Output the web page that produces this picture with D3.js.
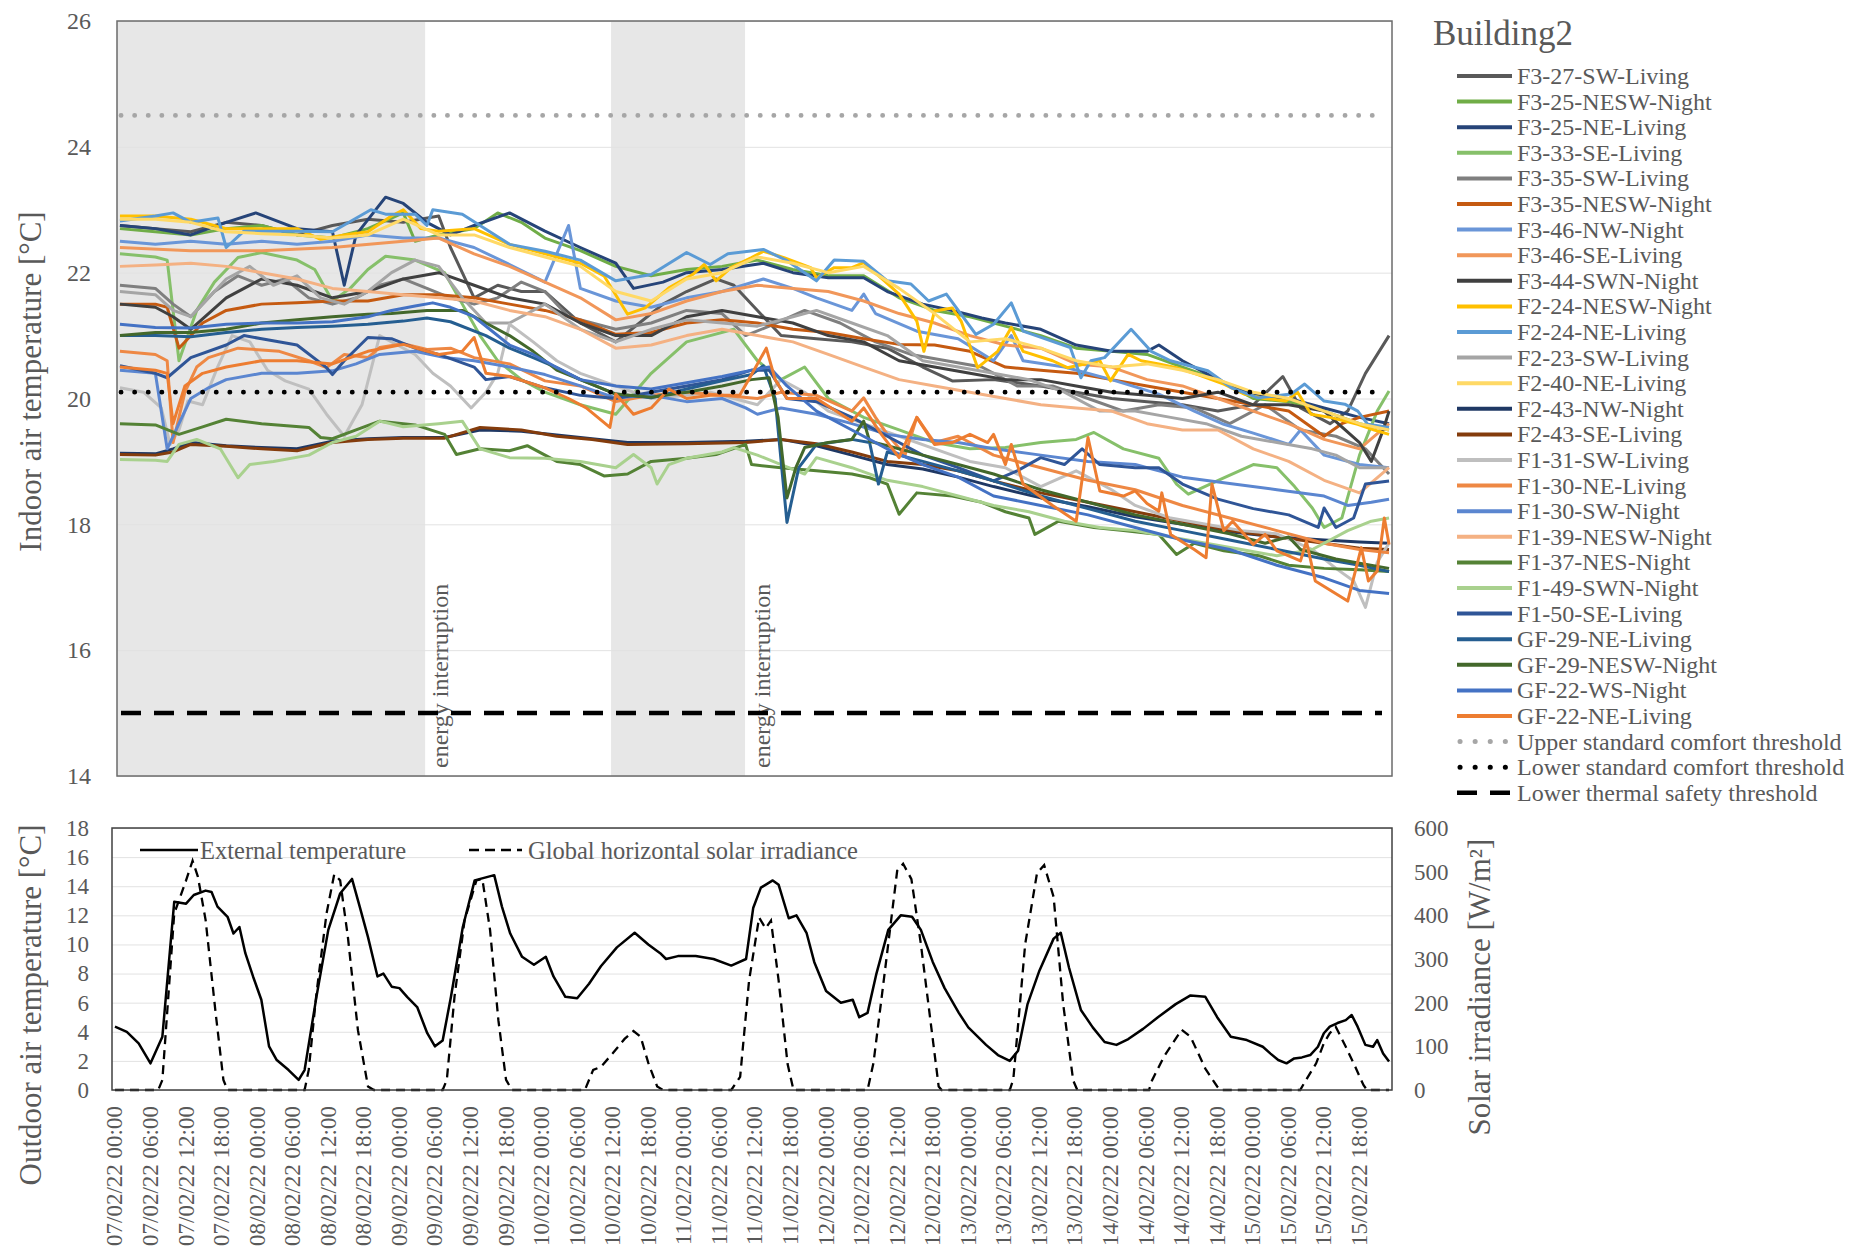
<!DOCTYPE html>
<html><head><meta charset="utf-8">
<script src="https://cdn.jsdelivr.net/npm/d3@7"></script>
<style>
body{margin:0;background:#fff;}
svg text{font-family:"Liberation Serif","Times New Roman",serif;fill:#595959;}
</style></head><body>
<svg id="chart" width="1852" height="1251"></svg>
<script>
// ---------------- DATA ----------------
// hours counted from 07/02/22 00:00
const xTickLabels = [
"07/02/22 00:00","07/02/22 06:00","07/02/22 12:00","07/02/22 18:00",
"08/02/22 00:00","08/02/22 06:00","08/02/22 12:00","08/02/22 18:00",
"09/02/22 00:00","09/02/22 06:00","09/02/22 12:00","09/02/22 18:00",
"10/02/22 00:00","10/02/22 06:00","10/02/22 12:00","10/02/22 18:00",
"11/02/22 00:00","11/02/22 06:00","11/02/22 12:00","11/02/22 18:00",
"12/02/22 00:00","12/02/22 06:00","12/02/22 12:00","12/02/22 18:00",
"13/02/22 00:00","13/02/22 06:00","13/02/22 12:00","13/02/22 18:00",
"14/02/22 00:00","14/02/22 06:00","14/02/22 12:00","14/02/22 18:00",
"15/02/22 00:00","15/02/22 06:00","15/02/22 12:00","15/02/22 18:00"];
const xTickHours = [0,6,12,18,24,30,36,42,48,54,60,66,72,78,84,90,96,102,108,114,120,126,132,138,144,150,156,162,168,174,180,186,192,198,204,210];
const indoorTicks = [14,16,18,20,22,24,26];
const outdoorTicks = [0,2,4,6,8,10,12,14,16,18];
const solarTicks = [0,100,200,300,400,500,600];
const upperComfort = 24.5, lowerComfort = 20.1, lowerSafety = 15;
const interruptionPeriods = [[-0.5,51.7],[83.2,105.9]];
const interruptionLabelHours = [54.3,108.8];

const seriesNames = ["F3-27-SW-Living","F3-25-NESW-Night","F3-25-NE-Living","F3-33-SE-Living","F3-35-SW-Living","F3-35-NESW-Night","F3-46-NW-Night","F3-46-SE-Living","F3-44-SWN-Night","F2-24-NESW-Night","F2-24-NE-Living","F2-23-SW-Living","F2-40-NE-Living","F2-43-NW-Night","F2-43-SE-Living","F1-31-SW-Living","F1-30-NE-Living","F1-30-SW-Night","F1-39-NESW-Night","F1-37-NES-Night","F1-49-SWN-Night","F1-50-SE-Living","GF-29-NE-Living","GF-29-NESW-Night","GF-22-WS-Night","GF-22-NE-Living"];

const F3_27_SW = [[0,22.75],[6,22.7],[12,22.65],[18,22.8],[24,22.75],[30,22.6],[36,22.75],[42,22.85],[48,22.8],[54,22.9],[56,22.4],[60,21.6],[64,21.8],[68,21.7],[72,21.7],[78,21.2],[84,20.9],[88,21.2],[92,21.5],[96,21.7],[101,21.9],[104,21.8],[108,21.4],[112,21.0],[118,20.95],[124,20.9],[130,20.8],[136,20.5],[141,20.28],[148,20.3],[156,20.2],[162,20.1],[168,20.0],[174,19.95],[180,19.9],[186,19.8],[192,19.9],[197,20.35],[200,19.85],[205,19.6],[208,19.8],[211,20.4],[215,21.0]];
const F3_25_NESW = [[0,22.7],[6,22.65],[12,22.6],[18,22.7],[24,22.75],[30,22.6],[36,22.55],[42,22.7],[48,22.95],[50,22.5],[54,22.6],[60,22.7],[64,22.95],[68,22.8],[72,22.55],[78,22.35],[84,22.1],[90,21.95],[96,22.05],[102,22.1],[108,22.2],[114,22.05],[120,21.95],[126,21.95],[132,21.6],[138,21.4],[144,21.3],[150,21.15],[156,21.0],[162,20.8],[168,20.75],[174,20.7],[180,20.5],[186,20.3],[192,20.0],[198,19.95],[204,19.8],[210,19.6],[215,19.5]];
const F3_25_NE = [[0,22.75],[6,22.7],[12,22.6],[18,22.8],[23,22.95],[30,22.7],[36,22.65],[38,21.8],[40,22.6],[45,23.2],[48,23.1],[52,22.8],[56,22.6],[60,22.75],[66,22.95],[72,22.66],[78,22.4],[84,22.15],[87,21.75],[92,21.85],[96,22.0],[102,22.05],[109,22.15],[114,22.0],[120,21.92],[126,21.92],[130,21.7],[136,21.5],[141,21.4],[146,21.28],[150,21.2],[156,21.1],[162,20.85],[168,20.75],[174,20.75],[176,20.85],[180,20.6],[186,20.3],[192,20.05],[198,20.0],[204,19.85],[210,19.7],[215,19.6]];
const F3_33_SE = [[0,22.3],[6,22.25],[8,22.2],[10,20.6],[13,21.4],[16,21.85],[20,22.24],[24,22.32],[30,22.2],[33,22.05],[36,21.55],[39,21.75],[42,22.05],[45,22.26],[50,22.2],[55,22.0],[58,21.5],[61,21.0],[64,20.6],[68,20.3],[72,20.1],[78,19.9],[84,19.75],[90,20.4],[96,20.9],[100,21.0],[104,21.1],[108,20.6],[112,20.3],[116,20.5],[120,20.0],[126,19.7],[132,19.5],[138,19.3],[144,19.2],[150,19.22],[156,19.3],[162,19.35],[165,19.46],[170,19.2],[176,19.05],[179,18.64],[181,18.48],[187,18.74],[192,18.95],[196,18.9],[199,18.6],[202,18.26],[204,17.95],[207,18.1],[210,19.1],[213,19.8],[215,20.12]];
const F3_35_SW = [[0,21.8],[6,21.75],[9,21.5],[12,21.3],[16,21.7],[20,21.95],[24,21.8],[28,21.9],[32,21.6],[36,21.5],[40,21.6],[44,21.8],[48,21.9],[52,21.75],[56,21.6],[60,21.5],[64,21.6],[68,21.85],[72,21.7],[76,21.3],[80,21.2],[84,21.1],[90,21.2],[96,21.4],[102,21.35],[106,21.0],[110,21.15],[116,21.4],[122,21.2],[128,20.9],[134,20.7],[140,20.6],[146,20.5],[152,20.2],[158,20.2],[164,20.0],[170,19.8],[176,19.9],[182,19.85],[188,19.6],[194,19.9],[200,19.5],[206,19.4],[211,19.2],[215,18.8]];
const F3_35_NESW = [[0,21.5],[6,21.5],[8,21.45],[10,20.8],[14,21.2],[18,21.4],[24,21.5],[30,21.52],[36,21.55],[42,21.55],[48,21.65],[54,21.65],[60,21.6],[66,21.5],[72,21.4],[78,21.25],[84,21.02],[90,21.05],[96,21.2],[102,21.25],[108,21.2],[114,21.1],[120,21.05],[126,20.95],[132,20.86],[138,20.85],[144,20.75],[150,20.5],[156,20.45],[162,20.4],[168,20.3],[174,20.2],[180,20.1],[186,20.0],[192,19.9],[198,19.8],[204,19.4],[207,19.6],[210,19.7],[215,19.8]];
const F3_46_NW = [[0,22.5],[6,22.45],[12,22.5],[18,22.45],[24,22.5],[30,22.45],[36,22.5],[42,22.6],[48,22.55],[54,22.55],[60,22.4],[66,22.13],[72,21.85],[76,22.75],[78,21.75],[84,21.55],[90,21.45],[96,21.6],[102,21.7],[109,21.9],[114,21.75],[118,21.6],[124,21.4],[126,21.66],[128,21.35],[135,21.07],[142,20.95],[148,20.6],[151,21.0],[153,20.6],[160,20.5],[168,20.3],[176,20.07],[182,19.8],[187,19.59],[192,19.45],[198,19.27],[200,19.5],[204,19.1],[210,18.95],[215,18.9]];
const F3_46_SE = [[0,22.4],[12,22.35],[24,22.35],[36,22.4],[48,22.5],[54,22.55],[60,22.3],[66,22.1],[72,21.85],[78,21.6],[84,21.25],[90,21.35],[96,21.55],[102,21.7],[108,21.8],[114,21.75],[120,21.7],[126,21.55],[132,21.35],[138,21.2],[144,21.0],[150,20.85],[156,20.8],[162,20.55],[168,20.5],[174,20.3],[180,20.2],[186,20.0],[192,19.8],[198,19.6],[204,19.35],[210,19.2],[215,19.6]];
const F3_44_SWN = [[0,21.5],[6,21.45],[9,21.3],[12,21.1],[18,21.6],[24,21.9],[30,21.8],[36,21.6],[42,21.7],[48,21.9],[54,22.0],[60,21.8],[66,21.6],[72,21.5],[78,21.2],[84,21.0],[90,21.0],[96,21.3],[102,21.4],[108,21.3],[114,21.2],[120,21.0],[126,20.9],[132,20.6],[138,20.5],[144,20.4],[150,20.3],[156,20.3],[162,20.2],[168,20.1],[174,20.05],[180,20.0],[186,20.1],[192,19.9],[198,19.9],[204,19.8],[210,19.3],[212,19.0],[214,19.5],[215,19.8]];
const F2_24_NESW = [[0,22.9],[6,22.9],[12,22.85],[18,22.7],[24,22.7],[30,22.7],[34,22.53],[38,22.6],[42,22.65],[46,22.9],[48,23.0],[51,22.7],[54,22.66],[60,22.7],[66,22.45],[72,22.3],[78,22.15],[82,21.95],[86,21.34],[89,21.44],[93,21.76],[97,21.97],[99,22.13],[101,21.87],[103.5,22.08],[107,22.24],[109,22.34],[112.5,22.24],[117,22.08],[118,21.92],[121,22.08],[124,22.08],[126,22.16],[129.5,21.87],[132,21.66],[135,21.23],[136.2,20.75],[138,21.39],[141,21.44],[142.5,21.23],[145.3,20.49],[148.7,20.75],[151,21.13],[153,20.75],[158,20.6],[160.5,20.49],[166,20.6],[167.8,20.28],[170.8,20.7],[173,20.6],[176,20.55],[179,20.49],[182.6,20.38],[187,20.23],[190.5,20.07],[194,20.0],[197.5,19.96],[199.5,20.1],[201.8,19.75],[205,19.7],[209.7,19.59],[212.5,19.5],[215,19.43]];
const F2_24_NE = [[0,22.82],[6,22.9],[9,22.95],[12,22.8],[16.6,22.87],[18,22.4],[21,22.66],[30,22.66],[36,22.65],[42.5,23.0],[45,22.93],[50,22.93],[52,22.75],[53,23.0],[58,22.93],[61,22.75],[66,22.45],[72,22.34],[78,22.2],[84,21.87],[90,21.97],[96,22.32],[100,22.13],[103,22.3],[109,22.37],[113,22.19],[118,21.87],[121,22.2],[126,22.18],[130,21.87],[134,21.82],[137,21.55],[140,21.66],[145,21.02],[148,21.18],[151,21.52],[153,21.07],[161,20.81],[162.8,20.33],[164.5,20.6],[166.8,20.65],[171.3,21.1],[174.7,20.75],[178,20.6],[184.3,20.44],[188.3,20.17],[192.8,20.01],[198.4,20.07],[200.7,20.23],[204,19.96],[207.5,19.91],[209.7,19.8],[211.4,19.59],[215,19.54]];
const F2_23_SW = [[0,21.7],[6,21.65],[9,21.4],[12,21.3],[18,21.9],[22,22.1],[26,21.8],[30,21.95],[34,21.6],[38,21.5],[42,21.7],[46,22.0],[50,22.2],[54,22.1],[58,21.6],[62,21.2],[66,21.2],[72,21.5],[78,21.1],[84,20.9],[90,21.1],[96,21.25],[102,21.2],[108,21.15],[114,21.3],[118,21.4],[124,21.2],[130,21.0],[136,20.6],[142,20.5],[148,20.4],[154,20.3],[160,20.1],[166,19.8],[172,19.8],[178,19.7],[184,19.6],[190,19.4],[196,19.3],[202,19.2],[206,19.1],[210,18.9],[215,18.9]];
const F2_40_NE = [[0,22.85],[6,22.85],[12,22.8],[18,22.65],[24,22.62],[30,22.6],[36,22.55],[42,22.6],[48,22.85],[54,22.6],[60,22.6],[66,22.4],[72,22.25],[78,22.1],[84,21.7],[90,21.55],[96,21.9],[102,22.0],[108,22.25],[114,22.15],[120,22.0],[126,22.1],[132,21.75],[138,21.35],[144,20.9],[150,20.95],[156,20.8],[162,20.6],[168,20.5],[174,20.55],[180,20.45],[186,20.3],[192,20.1],[198,20.0],[204,19.8],[210,19.6],[215,19.5]];
const F2_43_NW = [[0,19.13],[6,19.12],[9,19.2],[12,19.3],[18,19.25],[24,19.22],[30,19.2],[36,19.32],[42,19.36],[48,19.38],[55,19.38],[61,19.5],[68,19.48],[74,19.42],[80,19.36],[86,19.3],[96,19.3],[106,19.32],[112,19.35],[118,19.25],[124,19.1],[130,18.95],[136,18.88],[142,18.75],[148,18.6],[156,18.42],[164,18.28],[172,18.12],[180,18.0],[188,17.88],[196,17.8],[204,17.75],[210,17.72],[215,17.7]];
const F2_43_SE = [[0,19.11],[6,19.1],[9,19.15],[12,19.27],[18,19.24],[24,19.2],[30,19.17],[36,19.3],[42,19.35],[48,19.37],[55,19.37],[61,19.54],[68,19.5],[74,19.4],[80,19.35],[86,19.27],[96,19.28],[106,19.3],[112,19.35],[118,19.28],[124,19.15],[130,19.0],[136,18.95],[142,18.85],[148,18.69],[156,18.5],[164,18.35],[172,18.2],[180,18.05],[188,17.9],[196,17.8],[204,17.7],[210,17.62],[215,17.6]];
const F1_31_SW = [[0,20.17],[4,20.1],[7,19.85],[8.5,19.27],[10,19.5],[11.5,19.96],[14,19.9],[16.5,20.49],[19,21.0],[22,20.9],[25,20.45],[28,20.28],[32,20.15],[35,19.75],[38,19.4],[41,19.9],[44,21.0],[47,20.85],[50,20.7],[53,20.4],[56,20.2],[59.5,19.85],[62,20.1],[64,20.4],[66,21.18],[70,20.9],[74,20.6],[78,20.4],[84,20.2],[90,20.0],[96,20.05],[100,20.1],[104,20.0],[108,19.9],[112,20.3],[116,20.1],[120,19.8],[126,19.6],[132,19.4],[138,19.2],[144,19.0],[150,18.9],[156,18.6],[162,18.85],[168,18.55],[172,18.3],[178,18.1],[184,18.0],[190,17.9],[196,17.85],[202,17.6],[206,17.3],[209,17.1],[211,16.68],[213,17.4],[215,17.7]];
const F1_30_NE = [[0,20.75],[6,20.7],[8,20.6],[9,19.3],[11,20.1],[13,20.5],[15,20.65],[20,20.8],[27,20.75],[32,20.6],[35,20.49],[38,20.7],[42,20.65],[44,20.81],[48,20.87],[52,20.78],[56,20.8],[60,20.65],[66,20.55],[72,20.28],[78,20.2],[84,19.95],[90,20.05],[96,20.1],[102,20.05],[108,20.0],[112,20.1],[118,20.05],[124,19.8],[126,20.01],[128,19.7],[130,19.43],[133,19.1],[135,19.7],[138,19.3],[142,19.4],[148,19.1],[156,18.9],[164,18.7],[172,18.55],[180,18.3],[188,18.1],[196,17.9],[204,17.7],[210,17.6],[215,17.55]];
const F1_30_SW = [[0,20.45],[6,20.4],[8,19.2],[10,19.6],[12,20.0],[15,20.17],[18,20.3],[24,20.4],[30,20.4],[36,20.44],[40,20.55],[44,20.7],[50,20.75],[55,20.65],[60,20.6],[66,20.5],[72,20.38],[78,20.2],[84,20.01],[90,20.05],[96,19.95],[102,20.0],[106,19.85],[108,19.75],[112,19.85],[118,19.75],[124,19.6],[130,19.43],[136,19.35],[142,19.3],[148,19.2],[156,19.1],[164,19.0],[172,18.95],[180,18.75],[188,18.65],[196,18.55],[204,18.45],[208,18.3],[212,18.35],[215,18.4]];
const F1_39_NESW = [[0,22.1],[6,22.12],[12,22.15],[18,22.1],[24,22.0],[30,21.9],[36,21.75],[42,21.7],[48,21.65],[54,21.6],[60,21.55],[66,21.4],[72,21.3],[78,21.1],[84,20.8],[90,20.85],[96,21.0],[102,21.1],[108,21.0],[114,20.9],[120,20.7],[126,20.5],[132,20.3],[138,20.2],[144,20.1],[150,20.0],[156,19.9],[162,19.85],[168,19.8],[174,19.6],[180,19.5],[186,19.5],[192,19.2],[198,19.0],[204,18.7],[210,18.5],[215,18.9]];
const F1_37_NES = [[0,19.6],[6,19.58],[10,19.43],[14,19.55],[18,19.67],[24,19.6],[32,19.54],[34,19.38],[36,19.36],[40,19.5],[44,19.64],[50,19.58],[55,19.43],[57,19.11],[61,19.2],[66,19.17],[69,19.25],[74,19.0],[78,18.95],[82,18.77],[86,18.8],[90,19.0],[96,19.05],[101,19.11],[106,19.27],[107,18.95],[112,18.9],[118,18.85],[124,18.8],[127,18.74],[130,18.64],[132,18.16],[135,18.5],[141,18.45],[146,18.35],[150,18.2],[154,18.1],[155,17.84],[159,18.05],[165,17.95],[170,17.9],[176,17.84],[179,17.52],[182,17.7],[187,17.58],[193,17.5],[198,17.35],[204,17.3],[210,17.28],[215,17.25]];
const F1_49_SWN = [[0,19.03],[6,19.02],[8,19.0],[10,19.27],[13,19.35],[17,19.2],[20,18.74],[22,18.95],[26,19.0],[32,19.1],[36,19.3],[40,19.4],[44,19.64],[48,19.55],[54,19.6],[58,19.64],[61,19.2],[66,19.06],[72,19.05],[78,19.0],[84,18.9],[87,19.11],[90,18.9],[91,18.64],[93,18.95],[96,19.05],[102,19.15],[104,19.22],[108,19.1],[112,18.95],[116,18.8],[118,19.06],[124,18.9],[130,18.7],[136,18.6],[142,18.45],[148,18.3],[154,18.2],[160,18.05],[166,17.95],[172,17.9],[178,17.8],[184,17.7],[190,17.6],[196,17.5],[202,17.6],[208,17.9],[212,18.05],[215,18.1]];
const F1_50_SE = [[0,20.52],[6,20.4],[8,20.33],[12,20.65],[18,20.85],[21,21.0],[24,20.95],[30,20.85],[35,20.49],[36,20.38],[38,20.6],[42,20.97],[46,20.95],[50,20.8],[54,20.7],[60,20.5],[62,20.3],[66,20.35],[72,20.17],[78,20.05],[84,20.0],[90,20.1],[96,20.2],[102,20.3],[107,20.45],[110,20.45],[113,20.0],[118,19.95],[124,19.7],[130,19.4],[136,19.1],[142,18.9],[148,18.69],[152,18.85],[156,19.06],[160,18.95],[163,19.2],[166,18.95],[172,18.9],[176,18.9],[180,18.64],[186,18.4],[192,18.25],[198,18.15],[203,17.95],[204,18.26],[206,17.95],[209,18.1],[211,18.64],[215,18.69]];
const GF_29_NE = [[0,21.0],[6,21.0],[12,20.98],[18,21.05],[24,21.1],[30,21.13],[36,21.15],[42,21.18],[48,21.23],[52,21.28],[56,21.22],[62,21.0],[66,20.8],[70,20.65],[74,20.49],[78,20.3],[84,20.07],[90,20.01],[96,20.15],[102,20.28],[107,20.38],[109,20.52],[111,20.0],[113,18.03],[115,18.9],[118,19.27],[124,19.35],[127,19.3],[128.5,18.64],[130,19.15],[136,19.0],[142,18.85],[148,18.69],[156,18.45],[164,18.25],[172,18.05],[180,17.9],[188,17.75],[196,17.6],[204,17.45],[210,17.35],[215,17.25]];
const GF_29_NESW = [[0,21.0],[6,21.05],[12,21.05],[18,21.1],[24,21.2],[30,21.25],[36,21.3],[42,21.34],[46,21.35],[52,21.4],[58,21.4],[62,21.2],[66,21.0],[70,20.75],[74,20.45],[78,20.3],[84,20.07],[90,20.02],[96,20.1],[102,20.2],[107,20.3],[110,20.33],[111.5,19.7],[113,18.42],[114.5,18.9],[116,19.22],[120,19.3],[124,19.35],[126,19.64],[127,19.32],[130,19.25],[136,19.1],[142,18.95],[148,18.8],[156,18.55],[164,18.35],[172,18.15],[180,18.0],[188,17.85],[194,17.7],[198,17.8],[200,17.6],[206,17.45],[210,17.38],[215,17.3]];
const GF_22_WS = [[0,21.18],[6,21.13],[12,21.12],[18,21.18],[24,21.2],[30,21.2],[36,21.22],[42,21.3],[46,21.4],[50,21.47],[53,21.52],[56,21.45],[60,21.3],[66,20.85],[70,20.7],[74,20.49],[78,20.3],[84,20.2],[90,20.15],[96,20.25],[102,20.35],[107,20.45],[110,20.5],[113,20.2],[118,19.8],[124,19.5],[130,19.2],[136,18.95],[142,18.75],[148,18.45],[156,18.3],[164,18.15],[172,17.95],[180,17.75],[188,17.6],[196,17.35],[204,17.15],[210,16.95],[215,16.9]];
const GF_22_NE = [[0,20.5],[6,20.45],[8,20.4],[9,19.6],[11,20.2],[14,20.4],[18,20.5],[24,20.6],[30,20.6],[36,20.55],[42,20.75],[48,20.86],[54,20.7],[58,20.75],[60,20.97],[62,20.4],[66,20.35],[72,20.17],[76,20.0],[79,19.85],[83,19.54],[84,20.07],[87,19.75],[90,19.85],[93,20.15],[96,20.0],[100,20.05],[105,20.05],[107,20.38],[109.5,20.8],[111,20.3],[113,20.0],[118,20.0],[124,19.64],[126,19.85],[129,19.43],[132,19.06],[135,19.7],[138,19.27],[141,19.3],[144,19.43],[147,19.3],[148,19.43],[150,18.95],[151,19.27],[153,18.64],[158,18.3],[162,18.05],[164,19.38],[166,18.53],[170,18.45],[172,18.53],[174,18.33],[176,18.21],[176.5,18.5],[178,17.84],[182,17.6],[184,17.47],[185,18.64],[187,17.9],[188.5,18.05],[192,17.68],[194,17.84],[196,17.58],[200,17.42],[201,17.73],[202.5,17.1],[208,16.78],[210.3,17.63],[211.5,17.1],[213,17.26],[214.2,18.1],[215,17.68]];

const seriesValues = [F3_27_SW,F3_25_NESW,F3_25_NE,F3_33_SE,F3_35_SW,F3_35_NESW,F3_46_NW,F3_46_SE,F3_44_SWN,F2_24_NESW,F2_24_NE,F2_23_SW,F2_40_NE,F2_43_NW,F2_43_SE,F1_31_SW,F1_30_NE,F1_30_SW,F1_39_NESW,F1_37_NES,F1_49_SWN,F1_50_SE,GF_29_NE,GF_29_NESW,GF_22_WS,GF_22_NE];

const externalTemp = [[0,4.35],[2,4.0],[4,3.2],[6,1.83],[8,3.66],[10,12.93],[12,12.8],[13.3,13.4],[15.3,13.7],[16.3,13.6],[17.3,12.6],[19,11.9],[20,10.75],[21,11.2],[22,9.4],[23.3,7.8],[24.7,6.2],[26,3.0],[27.3,2.06],[29.3,1.37],[31,0.69],[32,1.37],[34,6.4],[36,11.0],[38,13.5],[40,14.5],[41.3,12.6],[42.7,10.5],[44.3,7.8],[45.3,8.0],[46.7,7.1],[48,7.0],[49.3,6.4],[51,5.7],[52.7,3.9],[54,3.0],[55.3,3.4],[56.7,6.4],[58.7,11.2],[60.7,14.4],[64,14.76],[65.3,12.6],[66.7,10.75],[68.7,9.15],[70.7,8.6],[72.7,9.15],[74,7.8],[76,6.4],[78,6.3],[80,7.3],[82,8.5],[84.7,9.8],[87.7,10.8],[90,10.0],[92,9.4],[93,9.0],[95,9.2],[98,9.2],[101,9.0],[104,8.55],[106.5,9.0],[107.7,12.5],[109,13.9],[111,14.4],[112,14.1],[113.7,11.8],[115,12.0],[116.7,10.8],[118,8.8],[120,6.8],[122.5,6.0],[124.5,6.2],[125.6,5.0],[127,5.3],[128.5,8.0],[130.5,11.0],[132.6,12.0],[134.5,11.9],[136,11.0],[138,8.8],[140,7.0],[142.4,5.3],[144,4.3],[147,3.1],[149,2.4],[151,2.0],[152.4,2.7],[154,5.9],[156,8.2],[158.4,10.4],[159.6,10.8],[161,8.4],[163,5.5],[165,4.3],[167,3.3],[169,3.1],[171,3.5],[173.5,4.2],[176,5.0],[179,5.9],[181.5,6.5],[184,6.4],[186,5.0],[188.3,3.66],[191,3.43],[193.7,2.97],[195,2.5],[196.3,2.06],[197.7,1.83],[199,2.17],[200.3,2.24],[201.7,2.4],[203,2.97],[204,3.9],[205,4.35],[206.3,4.6],[207.7,4.8],[208.7,5.15],[209.7,4.35],[211,3.1],[212.3,2.97],[213,3.43],[214,2.5],[215,1.95]];
const solarIrradiance = [[0,0],[7.3,0],[8,23],[10,404],[12,480],[13.1,525],[14,488],[15.3,389],[17,175],[18.3,23],[19,0],[32,0],[32.7,46],[34,221],[35.7,404],[37,494],[38,480],[39.3,351],[41,137],[42.7,8],[43.7,0],[55.3,0],[56,23],[57.3,214],[59,389],[61,480],[62,483],[63.3,366],[64.7,160],[66,23],[67,0],[79.3,0],[80.7,46],[82,53],[84,84],[86,117],[87.5,135],[88.7,122],[90,62],[91.5,8],[92.5,0],[104,0],[105.5,30],[107,250],[108.7,395],[109.8,370],[110.7,388],[112,250],[113.5,60],[114.5,0],[127,0],[128,62],[130,280],[132,502],[133,518],[134.4,483],[136,334],[138,117],[139,8],[139.5,0],[151,0],[151.6,25],[153.6,334],[155.6,497],[156.8,515],[158.4,442],[160,198],[161.7,22],[162.4,0],[174.5,0],[175,22],[177,76],[180,138],[181.5,122],[184,49],[186,8],[186.5,0],[200,0],[201,23],[202.7,61],[204,107],[205,130],[206,145],[207.7,99],[209.3,53],[210.7,11],[211.3,0],[215,0]];

// ---------------- STYLE ----------------
const seriesColors = ["#595959","#70AD47","#264478","#86C06A","#7F7F7F","#C55A11","#6A96D8","#F1975A","#404040","#FFC000","#5B9BD5","#A5A5A5","#FFD966","#1F3864","#843C0C","#BFBFBF","#EE8844","#5B86D0","#F4B183","#548235","#A9D18E","#2F5597","#255E91","#43682B","#4472C4","#ED7D31"];

const svg = d3.select('#chart');
const P1 = {l:117, r:1392, t:21, b:776};
const P2 = {l:112, r:1392, t:828, b:1090};
const x1 = d3.scaleLinear().domain([-0.5,215.5]).range([P1.l,P1.r]);
const x2 = d3.scaleLinear().domain([-0.5,215.5]).range([P2.l,P2.r]);
const y1 = d3.scaleLinear().domain([14,26]).range([P1.b,P1.t]);
const y2 = d3.scaleLinear().domain([0,18]).range([P2.b,P2.t]);
const y2r = d3.scaleLinear().domain([0,600]).range([P2.b,P2.t]);

svg.append('defs').append('clipPath').attr('id','c1').append('rect')
  .attr('x',P1.l).attr('y',P1.t).attr('width',P1.r-P1.l).attr('height',P1.b-P1.t);

// ---------- TOP PANEL ----------
const g1 = svg.append('g');
g1.selectAll('rect.shade').data(interruptionPeriods).join('rect').attr('class','shade')
  .attr('x',d=>x1(d[0])).attr('y',P1.t).attr('width',d=>x1(d[1])-x1(d[0])).attr('height',P1.b-P1.t)
  .attr('fill','#e7e7e7');

const ax1 = g1.append('g').attr('transform',`translate(${P1.l},0)`)
  .call(d3.axisLeft(y1).tickValues(indoorTicks).tickSize(-(P1.r-P1.l)).tickPadding(26).tickFormat(d3.format('d')));
ax1.select('.domain').remove();
ax1.selectAll('line').attr('stroke','#e2e2e2').attr('stroke-width',1);
ax1.selectAll('text').attr('font-size',24).attr('fill','#595959');

g1.selectAll('text.intr').data(interruptionLabelHours).join('text').attr('class','intr')
  .attr('transform',d=>`translate(${x1(d)},${P1.b-8}) rotate(-90)`)
  .attr('dominant-baseline','central').attr('font-size',24).attr('fill','#8a8a8a')
  .text('energy interruption');

const line1 = d3.line().x(d=>x1(d[0])).y(d=>y1(d[1]));
g1.append('g').attr('clip-path','url(#c1)').selectAll('path').data(seriesValues).join('path')
  .attr('d',line1).attr('fill','none').attr('stroke',(d,i)=>seriesColors[i])
  .attr('stroke-width',3).attr('stroke-linejoin','round');

const thresholds = [
  {v:upperComfort, c:'#A6A6A6', dash:'0.1,13.5', w:4.8, cap:'round'},
  {v:lowerComfort, c:'#000', dash:'0.1,13.5', w:4.8, cap:'round'},
  {v:lowerSafety, c:'#000', dash:'20,13', w:4.5, cap:'butt'}
];
g1.selectAll('line.th').data(thresholds).join('line').attr('class','th')
  .attr('x1',P1.l+4).attr('x2',P1.r-10).attr('y1',d=>y1(d.v)).attr('y2',d=>y1(d.v))
  .attr('stroke',d=>d.c).attr('stroke-width',d=>d.w).attr('stroke-dasharray',d=>d.dash)
  .attr('stroke-linecap',d=>d.cap);

g1.append('rect').attr('x',P1.l).attr('y',P1.t).attr('width',P1.r-P1.l).attr('height',P1.b-P1.t)
  .attr('fill','none').attr('stroke','#6b6b6b').attr('stroke-width',1.5);

svg.append('text').attr('transform',`translate(30,${(P1.t+P1.b)/2-17}) rotate(-90)`)
  .attr('text-anchor','middle').attr('dominant-baseline','central').attr('font-size',31)
  .text('Indoor air temperature [°C]');

// ---------- LEGEND ----------
const lg = svg.append('g');
lg.append('text').attr('x',1433).attr('y',45).attr('font-size',35).text('Building2');
const rowY = i => 76 + i*25.6;
const items = lg.selectAll('g.it').data(seriesNames).join('g').attr('class','it');
items.append('line').attr('x1',1457).attr('x2',1512).attr('y1',(d,i)=>rowY(i)).attr('y2',(d,i)=>rowY(i))
  .attr('stroke',(d,i)=>seriesColors[i]).attr('stroke-width',4);
items.append('text').attr('x',1517).attr('y',(d,i)=>rowY(i)).attr('dominant-baseline','central')
  .attr('font-size',24).text(d=>d);
const thNames = ["Upper standard comfort threshold","Lower standard comfort threshold","Lower thermal safety threshold"];
const thLeg = [
  {c:'#A6A6A6', dash:'0.1,15', w:5, cap:'round', x1:1460, x2:1506},
  {c:'#000', dash:'0.1,15', w:5, cap:'round', x1:1460, x2:1506},
  {c:'#000', dash:'20,13', w:4.5, cap:'butt', x1:1457, x2:1510}
];
thNames.forEach((n,k)=>{
  const yy = rowY(26+k);
  const s = thLeg[k];
  lg.append('line').attr('x1',s.x1).attr('x2',s.x2).attr('y1',yy).attr('y2',yy)
    .attr('stroke',s.c).attr('stroke-width',s.w).attr('stroke-dasharray',s.dash).attr('stroke-linecap',s.cap);
  lg.append('text').attr('x',1517).attr('y',yy).attr('dominant-baseline','central').attr('font-size',24).text(n);
});

// ---------- BOTTOM PANEL ----------
const g2 = svg.append('g');
const ax2 = g2.append('g').attr('transform',`translate(${P2.l},0)`)
  .call(d3.axisLeft(y2).tickValues(outdoorTicks).tickSize(-(P2.r-P2.l)).tickPadding(23).tickFormat(d3.format('d')));
ax2.select('.domain').remove();
ax2.selectAll('line').attr('stroke','#e2e2e2').attr('stroke-width',1);
ax2.selectAll('text').attr('font-size',23).attr('fill','#595959');

const ax2r = g2.append('g').attr('transform',`translate(${P2.r},0)`)
  .call(d3.axisRight(y2r).tickValues(solarTicks).tickSize(0).tickPadding(22).tickFormat(d3.format('d')));
ax2r.select('.domain').remove();
ax2r.selectAll('text').attr('font-size',23).attr('fill','#595959');

const lineT = d3.line().x(d=>x2(d[0])).y(d=>y2(d[1]));
const lineS = d3.line().x(d=>x2(d[0])).y(d=>y2r(d[1]));
g2.append('path').datum(solarIrradiance).attr('d',lineS).attr('fill','none')
  .attr('stroke','#000').attr('stroke-width',2.3).attr('stroke-dasharray','9,6');
g2.append('path').datum(externalTemp).attr('d',lineT).attr('fill','none')
  .attr('stroke','#000').attr('stroke-width',2.5).attr('stroke-linejoin','round');

g2.append('rect').attr('x',P2.l).attr('y',P2.t).attr('width',P2.r-P2.l).attr('height',P2.b-P2.t)
  .attr('fill','none').attr('stroke','#404040').attr('stroke-width',1.5);

// bottom legend
g2.append('line').attr('x1',140).attr('x2',198).attr('y1',850).attr('y2',850).attr('stroke','#000').attr('stroke-width',2.5);
g2.append('text').attr('x',200).attr('y',850).attr('dominant-baseline','central').attr('font-size',24.5).text('External temperature');
g2.append('line').attr('x1',469).attr('x2',522).attr('y1',850).attr('y2',850).attr('stroke','#000').attr('stroke-width',2.5).attr('stroke-dasharray','10,6');
g2.append('text').attr('x',528).attr('y',850).attr('dominant-baseline','central').attr('font-size',24.5).text('Global horizontal solar irradiance');

// x labels
g2.selectAll('text.xl').data(xTickHours).join('text').attr('class','xl')
  .attr('transform',d=>`translate(${x2(d)},1106) rotate(-90)`)
  .attr('text-anchor','end').attr('dominant-baseline','central').attr('font-size',23)
  .text((d,i)=>xTickLabels[i]);

svg.append('text').attr('transform',`translate(30,1005) rotate(-90)`)
  .attr('text-anchor','middle').attr('dominant-baseline','central').attr('font-size',31)
  .text('Outdoor air temperature [°C]');
svg.append('text').attr('transform',`translate(1479,987) rotate(-90)`)
  .attr('text-anchor','middle').attr('dominant-baseline','central').attr('font-size',31)
  .text('Solar irradiance [W/m²]');
</script>
</body></html>
